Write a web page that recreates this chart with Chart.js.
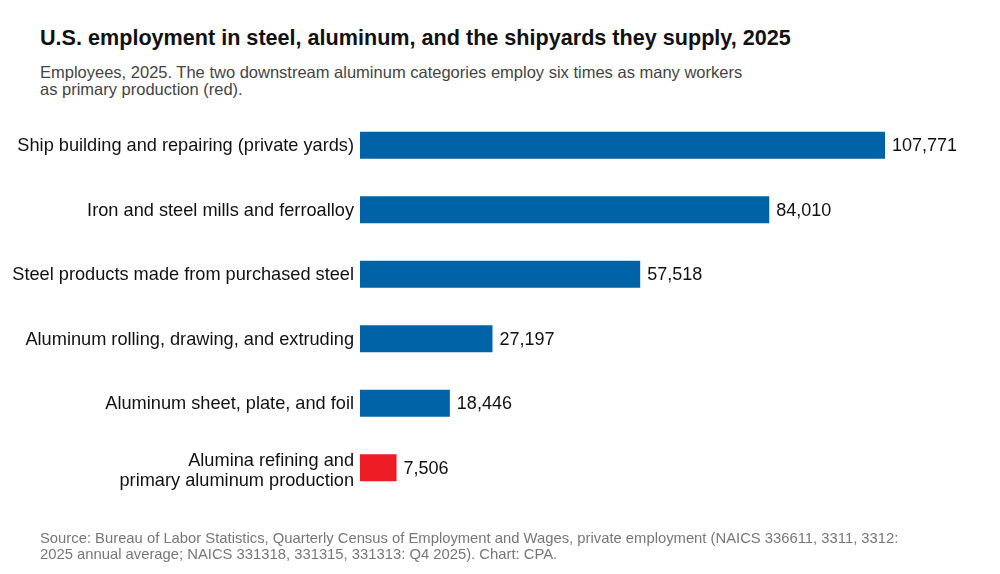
<!DOCTYPE html>
<html>
<head>
<meta charset="utf-8">
<script src="https://cdn.jsdelivr.net/npm/chart.js@4/dist/chart.umd.min.js"></script>
<style>
  html, body { margin: 0; padding: 0; background: #fff; }
  body { width: 1000px; height: 574px; position: relative; overflow: hidden; font-family: "Liberation Sans", Arial, sans-serif; }
  .title { position: absolute; left: 40px; top: 25px; font-size: 21.6px; line-height: 26px; font-weight: bold; color: #111; white-space: nowrap; }
  .subtitle { position: absolute; left: 40px; top: 64px; font-size: 16.5px; line-height: 17px; color: #444; white-space: nowrap; }
  .source { position: absolute; left: 40px; top: 531px; font-size: 14.8px; line-height: 15.5px; color: #777; white-space: nowrap; }
  #wrap { position: absolute; left: 0; top: 0; width: 1000px; height: 574px; }
</style>
</head>
<body>
<div class="title">U.S. employment in steel, aluminum, and the shipyards they supply, 2025</div>
<div class="subtitle">Employees, 2025. The two downstream aluminum categories employ six times as many workers<br>as primary production (red).</div>
<div id="wrap"><canvas id="chart"></canvas></div>
<div class="source">Source: Bureau of Labor Statistics, Quarterly Census of Employment and Wages, private employment (NAICS 336611, 3311, 3312:<br>2025 annual average; NAICS 331318, 331315, 331313: Q4 2025). Chart: CPA.</div>
<script>
const categories = [
  "Ship building and repairing (private yards)",
  "Iron and steel mills and ferroalloy",
  "Steel products made from purchased steel",
  "Aluminum rolling, drawing, and extruding",
  "Aluminum sheet, plate, and foil",
  ["Alumina refining and", "primary aluminum production"]
];
const employees = [107771, 84010, 57518, 27197, 18446, 7506];
const barColors = ["#0063a8", "#0063a8", "#0063a8", "#0063a8", "#0063a8", "#ee1d25"];

const FONT = '"Liberation Sans", Arial, sans-serif';

// value labels at bar ends + category labels left of the bars
const textLabels = {
  id: "textLabels",
  afterDatasetsDraw(chart) {
    const ctx = chart.ctx;
    const meta = chart.getDatasetMeta(0);
    const yScale = chart.scales.y;
    ctx.save();
    ctx.fillStyle = "#111";
    ctx.textBaseline = "middle";

    ctx.font = "18px " + FONT;
    ctx.textAlign = "left";
    meta.data.forEach((bar, i) => {
      ctx.fillText(employees[i].toLocaleString("en-US"), bar.x + 7, bar.y + 1);
    });

    ctx.font = "18.2px " + FONT;
    ctx.textAlign = "right";
    const xRight = yScale.right - 6;
    categories.forEach((lab, i) => {
      const y = yScale.getPixelForValue(i);
      if (Array.isArray(lab)) {
        lab.forEach((line, j) => {
          ctx.fillText(line, xRight, y + 3.5 + (j - (lab.length - 1) / 2) * 20);
        });
      } else {
        ctx.fillText(lab, xRight, y + 1);
      }
    });
    ctx.restore();
  }
};

new Chart(document.getElementById("chart").getContext("2d"), {
  type: "bar",
  data: {
    labels: categories,
    datasets: [{
      data: employees,
      backgroundColor: barColors,
      borderWidth: 0,
      categoryPercentage: 1,
      barPercentage: 0.415
    }]
  },
  options: {
    indexAxis: "y",
    responsive: true,
    maintainAspectRatio: false,
    animation: false,
    layout: { padding: { top: 113, bottom: 74, left: 0, right: 115 } },
    plugins: { legend: { display: false }, tooltip: { enabled: false } },
    scales: {
      x: { display: false, min: 0, max: 107771 },
      y: {
        grid: { display: false, drawTicks: false },
        border: { display: false },
        ticks: { display: false },
        afterFit(scale) { scale.width = 360; }
      }
    }
  },
  plugins: [textLabels]
});
</script>
</body>
</html>
